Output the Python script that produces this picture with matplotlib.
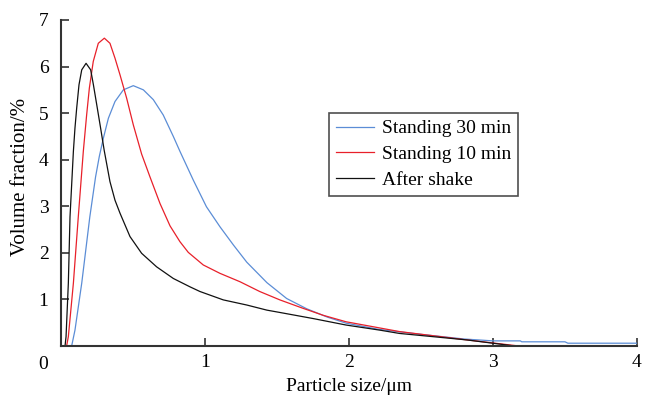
import matplotlib
matplotlib.use("Agg")
import matplotlib.pyplot as plt
from matplotlib.transforms import blended_transform_factory

# Data (particle size in um, volume fraction in %)
blue_x = [0.074, 0.097, 0.144, 0.20, 0.240, 0.266, 0.294, 0.329, 0.375, 0.433, 0.502, 0.572,
          0.641, 0.71, 0.78, 0.826, 0.919, 1.01, 1.104, 1.197, 1.29, 1.43, 1.567, 1.706, 1.85,
          1.98, 2.2, 2.5, 2.8, 3.0, 3.19, 3.2, 3.5, 3.52, 4.0]
blue_y = [0.0, 0.34, 1.35, 2.77, 3.63, 4.07, 4.46, 4.89, 5.25, 5.50, 5.59, 5.50,
          5.29, 4.96, 4.50, 4.18, 3.56, 2.99, 2.56, 2.17, 1.80, 1.36, 1.02, 0.80, 0.62,
          0.49, 0.36, 0.25, 0.15, 0.11, 0.11, 0.09, 0.09, 0.06, 0.06]

red_x = [0.039, 0.051, 0.086, 0.12, 0.155, 0.178, 0.197, 0.224, 0.259, 0.301, 0.34, 0.375,
         0.41, 0.456, 0.502, 0.56, 0.618, 0.6875, 0.757, 0.826, 0.884, 0.988, 1.104, 1.243,
         1.38, 1.52, 1.68, 1.82, 1.98, 2.35, 2.82, 3.18]
red_y = [0.0, 0.2, 1.35, 2.77, 4.18, 4.96, 5.54, 6.11, 6.50, 6.61, 6.50, 6.18,
         5.82, 5.32, 4.75, 4.12, 3.63, 3.06, 2.58, 2.24, 2.01, 1.74, 1.56, 1.38,
         1.17, 0.99, 0.81, 0.66, 0.52, 0.31, 0.13, 0.0]

black_x = [0.028, 0.035, 0.051, 0.0625, 0.086, 0.097, 0.109, 0.125, 0.144, 0.174, 0.206, 0.225,
           0.252, 0.275, 0.30, 0.34, 0.375, 0.41, 0.479, 0.56, 0.664, 0.78, 0.896, 0.965, 1.127,
           1.29, 1.43, 1.52, 1.75, 1.98, 2.215, 2.35, 2.82, 3.15]
black_y = [0.0, 0.2, 1.35, 2.77, 4.18, 4.68, 5.11, 5.61, 5.93, 6.07, 5.93, 5.61,
           5.11, 4.68, 4.20, 3.53, 3.13, 2.85, 2.35, 1.99, 1.70, 1.45, 1.27, 1.17, 0.99,
           0.88, 0.77, 0.72, 0.59, 0.45, 0.34, 0.27, 0.13, 0.0]

labels = ["Standing 30 min", "Standing 10 min", "After shake"]
xticks = [1, 2, 3, 4]
yticks = [1, 2, 3, 4, 5, 6, 7]

plt.rcParams['font.family'] = ['Liberation Serif', 'DejaVu Serif']

fig = plt.figure(figsize=(6.45, 4.01), dpi=100)
ax = fig.add_axes([61/645, 55/401, 576/645, 326/401])

ax.plot(blue_x, blue_y, color='#5b8dd6', lw=0.9, label=labels[0])
ax.plot(red_x, red_y, color='#e8202a', lw=0.9, label=labels[1])
ax.plot(black_x, black_y, color='#111111', lw=0.9, label=labels[2])

ax.set_xlim(0, 4)
ax.set_ylim(0, 7)
ax.set_xticks(xticks)
ax.set_yticks(yticks)
ax.tick_params(direction='in', length=6, width=1.2, color='#333333', labelsize=14)
ax.tick_params(axis='y', pad=9)
ax.tick_params(axis='x', pad=6)
for s in ['top', 'right']:
    ax.spines[s].set_visible(False)
for s in ['left', 'bottom']:
    ax.spines[s].set_color('#333333')
    ax.spines[s].set_linewidth(1.5)

tr = blended_transform_factory(ax.transData, ax.transAxes)
ax.text(-0.125, (346-369)/326, "0", transform=tr, ha='center', va='baseline', fontsize=14)

ax.set_xlabel("Particle size/μm", fontsize=14, labelpad=5)
ax.set_ylabel("Volume fraction/%", fontsize=15)
ax.yaxis.set_label_coords((30-61)/576, 0.52)

leg = ax.legend(loc='upper left', bbox_to_anchor=((329-61)/576, (346-113)/326),
                fontsize=14, frameon=True, fancybox=False, handlelength=1.95,
                borderpad=0.35, labelspacing=0.42, handletextpad=0.4, borderaxespad=0)
leg.get_frame().set_edgecolor('#222222')
leg.get_frame().set_linewidth(1.2)

fig.savefig("out.png", dpi=100)
